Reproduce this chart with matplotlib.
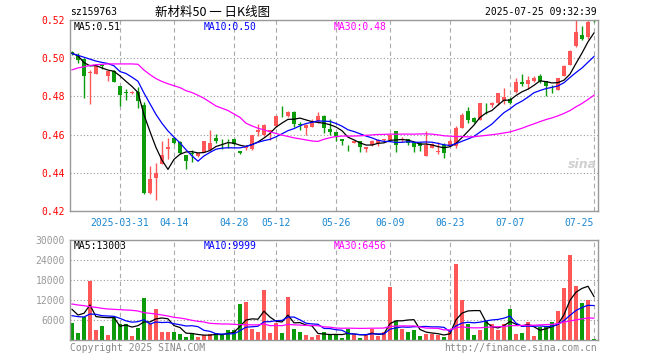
import numpy as np
import pandas as pd
import matplotlib
matplotlib.use("Agg")
import matplotlib.pyplot as plt

plt.rcParams['font.family'] = ['DejaVu Sans Mono', 'Noto Sans CJK SC']

# header texts
code = "sz159763"
title = "新材料50 一 日K线图"
stamp = "2025-07-25 09:32:39"

# daily candles, 2025-03-19 .. 2025-07-25
opens = [0.5035, 0.5010, 0.4995, 0.4925, 0.4918, 0.4962, 0.4907, 0.4934, 0.4855, 0.4822,
         0.4817, 0.4825, 0.4754, 0.4292, 0.4375, 0.4448, 0.4527, 0.4581, 0.4563, 0.4493,
         0.4503, 0.4488, 0.4511, 0.4518, 0.4581, 0.4551, 0.4557, 0.4576, 0.4514, 0.4528,
         0.4523, 0.4612, 0.4600, 0.4615, 0.4643, 0.4709, 0.4696, 0.4720, 0.4653, 0.4635,
         0.4640, 0.4673, 0.4699, 0.4631, 0.4612, 0.4577, 0.4531, 0.4557, 0.4565, 0.4522,
         0.4543, 0.4557, 0.4570, 0.4574, 0.4617, 0.4572, 0.4577, 0.4556, 0.4556, 0.4490,
         0.4530, 0.4508, 0.4546, 0.4541, 0.4540, 0.4637, 0.4725, 0.4688, 0.4677, 0.4757,
         0.4756, 0.4763, 0.4777, 0.4786, 0.4825, 0.4877, 0.4865, 0.4883, 0.4909, 0.4879,
         0.4835, 0.4835, 0.4909, 0.4965, 0.5063, 0.5119, 0.5110, 0.5202]
highs = [0.5040, 0.5026, 0.5000, 0.4937, 0.4960, 0.4969, 0.4934, 0.4936, 0.4856, 0.4841,
         0.4828, 0.4851, 0.4771, 0.4436, 0.4450, 0.4567, 0.4582, 0.4585, 0.4565, 0.4495,
         0.4520, 0.4505, 0.4567, 0.4624, 0.4602, 0.4576, 0.4576, 0.4578, 0.4516, 0.4546,
         0.4600, 0.4654, 0.4655, 0.4625, 0.4700, 0.4751, 0.4722, 0.4722, 0.4668, 0.4654,
         0.4682, 0.4717, 0.4701, 0.4682, 0.4614, 0.4579, 0.4547, 0.4568, 0.4567, 0.4536,
         0.4574, 0.4576, 0.4579, 0.4602, 0.4619, 0.4587, 0.4579, 0.4558, 0.4558, 0.4617,
         0.4556, 0.4560, 0.4556, 0.4576, 0.4646, 0.4711, 0.4742, 0.4690, 0.4766, 0.4768,
         0.4772, 0.4818, 0.4842, 0.4795, 0.4895, 0.4918, 0.4909, 0.4909, 0.4918, 0.4881,
         0.4860, 0.4897, 0.4963, 0.5041, 0.5207, 0.5168, 0.5207, 0.5207]
lows = [0.5015, 0.4974, 0.4794, 0.4762, 0.4915, 0.4942, 0.4881, 0.4873, 0.4750, 0.4782,
        0.4812, 0.4741, 0.4288, 0.4287, 0.4258, 0.4444, 0.4474, 0.4550, 0.4500, 0.4418,
        0.4457, 0.4485, 0.4507, 0.4515, 0.4558, 0.4523, 0.4532, 0.4545, 0.4500, 0.4518,
        0.4521, 0.4592, 0.4592, 0.4574, 0.4640, 0.4692, 0.4694, 0.4640, 0.4625, 0.4600,
        0.4638, 0.4661, 0.4609, 0.4600, 0.4565, 0.4548, 0.4513, 0.4555, 0.4508, 0.4508,
        0.4541, 0.4540, 0.4568, 0.4568, 0.4508, 0.4560, 0.4548, 0.4508, 0.4513, 0.4487,
        0.4528, 0.4497, 0.4479, 0.4539, 0.4532, 0.4635, 0.4663, 0.4663, 0.4674, 0.4707,
        0.4747, 0.4756, 0.4760, 0.4760, 0.4818, 0.4853, 0.4839, 0.4878, 0.4870, 0.4804,
        0.4818, 0.4833, 0.4907, 0.4963, 0.5058, 0.5093, 0.5102, 0.5190]
closes = [0.5020, 0.4990, 0.4907, 0.4930, 0.4960, 0.4958, 0.4934, 0.4876, 0.4808, 0.4818,
          0.4825, 0.4776, 0.4292, 0.4369, 0.4401, 0.4492, 0.4535, 0.4555, 0.4502, 0.4462,
          0.4499, 0.4502, 0.4565, 0.4555, 0.4567, 0.4549, 0.4555, 0.4549, 0.4502, 0.4535,
          0.4598, 0.4623, 0.4652, 0.4622, 0.4699, 0.4706, 0.4720, 0.4656, 0.4651, 0.4652,
          0.4661, 0.4699, 0.4635, 0.4612, 0.4591, 0.4565, 0.4529, 0.4565, 0.4534, 0.4534,
          0.4565, 0.4574, 0.4577, 0.4600, 0.4544, 0.4577, 0.4556, 0.4534, 0.4539, 0.4548,
          0.4552, 0.4513, 0.4503, 0.4566, 0.4637, 0.4702, 0.4677, 0.4667, 0.4765, 0.4755,
          0.4768, 0.4818, 0.4795, 0.4765, 0.4877, 0.4865, 0.4888, 0.4895, 0.4882, 0.4856,
          0.4832, 0.4895, 0.4961, 0.5039, 0.5137, 0.5102, 0.5189, 0.5193]
volumes = [5200, 2200, 6800, 17800, 3100, 4200, 1600, 7000, 4800, 4800,
           1200, 3700, 12700, 4700, 9400, 2500, 2500, 2500, 1800, 1000,
           2000, 1000, 1500, 1800, 2200, 1500, 3000, 3000, 10900, 11500,
           3300, 2500, 15000, 2100, 5200, 2200, 12900, 3300, 2500, 1500,
           1000, 1500, 2500, 1700, 1700, 700, 3300, 1500, 700, 1500,
           3300, 1300, 2500, 15900, 5800, 3300, 2500, 3000, 1200, 1900,
           1900, 1500, 1000, 3000, 22800, 12000, 4800, 1500, 3000, 5800,
           4800, 3000, 4800, 9300, 1800, 2200, 5400, 1200, 4000, 4000,
           5500, 8800, 15700, 25500, 16200, 11200, 12000, 400]

# moving-average values at the left edge (history before the window is not shown)
ma5_head = [0.5026, 0.5012, 0.4977, 0.4960]
ma10_head = [0.5025, 0.5015, 0.5005, 0.4995, 0.4985, 0.4978, 0.4972, 0.4960, 0.4930]
ma30_head = [0.4939, 0.4949, 0.4955, 0.4962, 0.4966, 0.4968, 0.4970, 0.4970, 0.4970, 0.4970,
             0.4970, 0.4968, 0.4938, 0.4914, 0.4893, 0.4878, 0.4866, 0.4856, 0.4846, 0.4830,
             0.4820, 0.4806, 0.4790, 0.4770, 0.4750, 0.4738, 0.4726, 0.4708, 0.4690]
vma5_head = [9200, 7500, 8000, 10500]
vma10_head = [7300, 7000, 6900, 7800, 7700, 7300, 7200, 7100, 6500]
vma30_head = [10800, 10500, 10300, 10000, 9800, 9500, 9300, 9200, 9100, 9000,
              8900, 8700, 8200, 8000, 7800, 7500, 7200, 6800, 6600, 6300,
              5900, 5600, 5400, 5000, 4900, 4800, 4800, 4700, 4600]

tick_idx = [8, 17, 27, 34, 44, 53, 63, 73, 87]
tick_labels = ["2025-03-31", "04-14", "04-28", "05-12", "05-26", "06-09", "06-23", "07-07", "07-25"]
price_ticks = [0.42, 0.44, 0.46, 0.48, 0.50, 0.52]
vol_ticks = [6000, 12000, 18000, 24000, 30000]
price_ma_text = ["MA5:0.51", "MA10:0.50", "MA30:0.48"]
vol_ma_text = ["MA5:13003", "MA10:9999", "MA30:6456"]


def moving(values, n, head):
    s = pd.Series(values, dtype=float).rolling(n).mean()
    s.iloc[:len(head)] = head
    return s.values


RED = "#ff5757"
GREEN = "#0b9b0b"
GRID = "#aaaaaa"
ma_colors = ["black", "#0000ff", "#ff00ff"]

x = np.arange(len(closes))
o = np.array(opens)
c = np.array(closes)
up = c >= o
colors = np.where(up, RED, GREEN)

W, H = 660, 360
fig = plt.figure(figsize=(W / 100, H / 100), dpi=100)
ax = fig.add_axes([70 / W, 1 - 211 / H, 528 / W, 191 / H])
axv = fig.add_axes([70 / W, 20 / H, 528 / W, 100 / H])

# candles
ax.vlines(x, lows, highs, colors=colors, lw=1)
body_lo = np.minimum(o, c)
body_h = np.maximum(np.abs(c - o), 0.0002)
ax.bar(x, body_h, 0.75, bottom=body_lo, color=colors, lw=0)

for n, head, col in zip([5, 10, 30], [ma5_head, ma10_head, ma30_head], ma_colors):
    ax.plot(x, moving(closes, n, head), color=col, lw=0.9)

# volume
axv.bar(x, volumes, 0.8, color=colors, lw=0)
for n, head, col in zip([5, 10, 30], [vma5_head, vma10_head, vma30_head], ma_colors):
    axv.plot(x, moving(volumes, n, head), color=col, lw=0.9)

for a in (ax, axv):
    a.set_xlim(-0.33, 87.67)
    a.set_xticks(tick_idx)
    a.xaxis.grid(True, color=GRID, ls=(0, (4, 3)), lw=0.8)
    a.yaxis.grid(True, color="#999999", ls=(0, (1, 2)), lw=0.8)
    a.set_axisbelow(True)
    a.tick_params(length=0)
    for sp in a.spines.values():
        sp.set_color("#999999")
        sp.set_linewidth(1)

ax.set_ylim(0.42, 0.52)
ax.set_yticks(price_ticks)
ax.set_yticklabels(["%.2f" % v for v in price_ticks], color="red", fontsize=7)
ax.set_xticklabels(tick_labels, color="#1a87d0", fontsize=7)
ax.tick_params(axis="x", pad=5)
ax.get_xticklabels()[-1].set_ha("right")
ax.get_xticklabels()[-1].set_x(87)

axv.set_ylim(0, 30000)
axv.set_yticks(vol_ticks)
axv.set_yticklabels([str(v) for v in vol_ticks], color="#999999", fontsize=7)
axv.set_xticklabels([])

# legends in panels
for t, col, px in zip(price_ma_text, ma_colors, [74, 204, 334]):
    fig.text(px / W, 1 - 27 / H, t, color=col, fontsize=7, va="center")
for t, col, px in zip(vol_ma_text, ma_colors, [74, 204, 334]):
    fig.text(px / W, 1 - 246 / H, t, color=col, fontsize=7, va="center")

fig.text(70 / W, 1 - 12 / H, code, fontsize=7, va="center")
fig.text(213 / W, 1 - 12 / H, title, fontsize=9, va="center", ha="center",
         family=["Noto Sans CJK SC", "DejaVu Sans"])
fig.text(597 / W, 1 - 12 / H, stamp, fontsize=7, va="center", ha="right")
fig.text(582 / W, 1 - 165 / H, "sina", fontsize=9, color="#d0d0d0", style="italic",
         weight="bold", ha="center", va="center", family="DejaVu Sans")
fig.text(70 / W, 1 - 348 / H, "Copyright 2025 SINA.COM", fontsize=7, color="#888888", va="center")
fig.text(597 / W, 1 - 348 / H, "http://finance.sina.com.cn", fontsize=7, color="#888888",
         va="center", ha="right")

fig.savefig("out.png", dpi=100)
